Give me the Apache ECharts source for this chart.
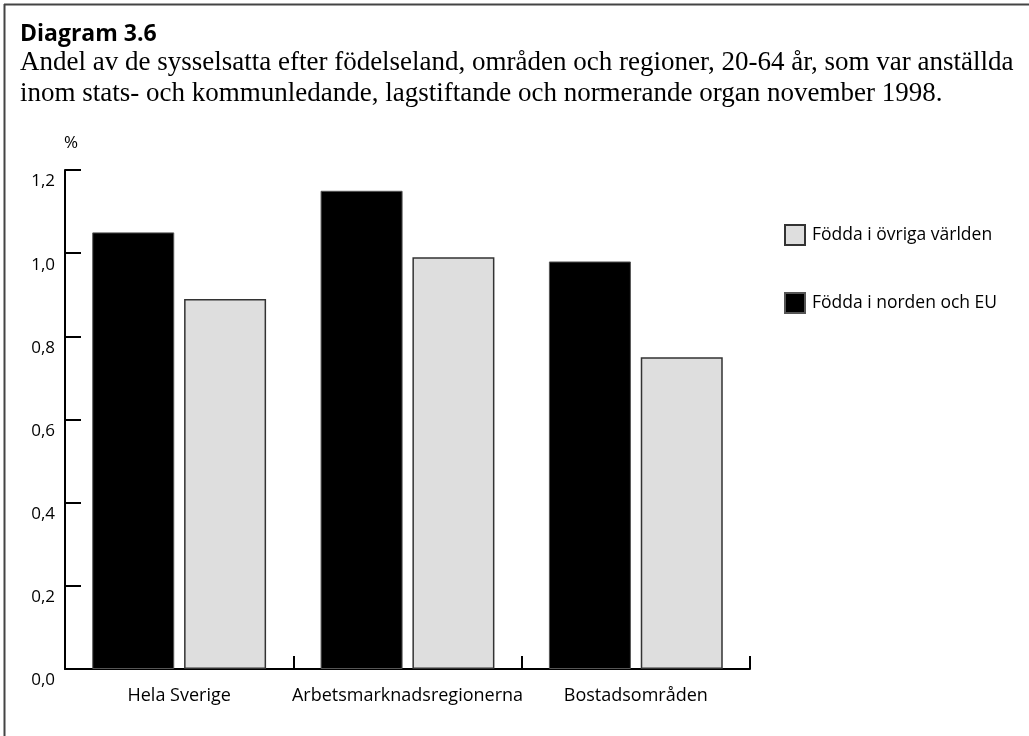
<!DOCTYPE html>
<html>
<head>
<meta charset="utf-8">
<script src="https://cdn.jsdelivr.net/npm/echarts@6/dist/echarts.min.js"></script>
<style>
html,body{margin:0;padding:0;background:#fff;}
#c{width:1029px;height:736px;}
</style>
</head>
<body>
<div id="c"></div>
<script>
const categories = ['Hela Sverige', 'Arbetsmarknadsregionerna', 'Bostadsområden'];
const nordenEU = [1.05, 1.15, 0.98];
const ovrigaVarlden = [0.89, 0.99, 0.75];
const seriesNames = ['Födda i norden och EU', 'Födda i övriga världen'];
const yTicks = [0, 0.2, 0.4, 0.6, 0.8, 1.0, 1.2];

const chart = echarts.init(document.getElementById('c'), null, {renderer: 'canvas'});
const sans = '"Open Sans"';
chart.setOption({
  animation: false,
  backgroundColor: '#fff',
  graphic: [
    {type: 'line', shape: {x1: 4, y1: 4.5, x2: 1029, y2: 4.5}, style: {stroke: '#444', lineWidth: 2}},
    {type: 'line', shape: {x1: 4.5, y1: 4, x2: 4.5, y2: 736}, style: {stroke: '#444', lineWidth: 2}},
    {type: 'text', left: 20, top: 23, style: {text: 'Diagram 3.6', font: 'bold 23px "Open Sans"', fill: '#000'}},
    {type: 'text', left: 20, top: 47, style: {text: 'Andel av de sysselsatta efter födelseland, områden och regioner, 20-64 år, som var anställda\ninom stats- och kommunledande, lagstiftande och normerande organ november 1998.', font: '27px "Liberation Serif"', lineHeight: 31, fill: '#000'}},
    {type: 'text', left: 64, top: 135, style: {text: '%', font: '17px ' + sans, fill: '#000'}}
  ],
  legend: {
    orient: 'vertical',
    left: 779,
    top: 219,
    itemWidth: 20,
    itemHeight: 20,
    itemGap: 46,
    icon: 'rect',
    data: [seriesNames[1], seriesNames[0]],
    textStyle: {fontFamily: 'Open Sans', fontSize: 17.5, color: '#000', padding: [0, 0, 0, 2]}
  },
  grid: {left: 65, top: 170, width: 685, height: 499, containLabel: false},
  xAxis: {
    type: 'category',
    data: categories,
    axisLine: {lineStyle: {color: '#000', width: 2}},
    axisTick: {show: true, inside: true, length: 13, lineStyle: {color: '#000', width: 2}},
    axisLabel: {fontFamily: 'Open Sans', fontSize: 18, color: '#000', margin: 18, interval: 0}
  },
  yAxis: {
    type: 'value',
    min: 0, max: 1.2, interval: 0.2,
    axisLine: {show: true, lineStyle: {color: '#000', width: 2}},
    axisTick: {show: true, inside: true, length: 16, lineStyle: {color: '#000', width: 2}},
    splitLine: {show: false},
    axisLabel: {
      fontFamily: 'Open Sans', fontSize: 17, color: '#000', margin: 10,
      verticalAlign: 'top', padding: [3, 0, 0, 0],
      formatter: v => v.toFixed(1).replace('.', ',')
    }
  },
  series: [
    {name: seriesNames[0], type: 'bar', data: nordenEU, barWidth: 82, barGap: '12%',
     itemStyle: {color: '#000', borderColor: '#555', borderWidth: 1}},
    {name: seriesNames[1], type: 'bar', data: ovrigaVarlden, barWidth: 82,
     itemStyle: {color: '#dedede', borderColor: '#333', borderWidth: 1.5}}
  ]
});
</script>
</body>
</html>
